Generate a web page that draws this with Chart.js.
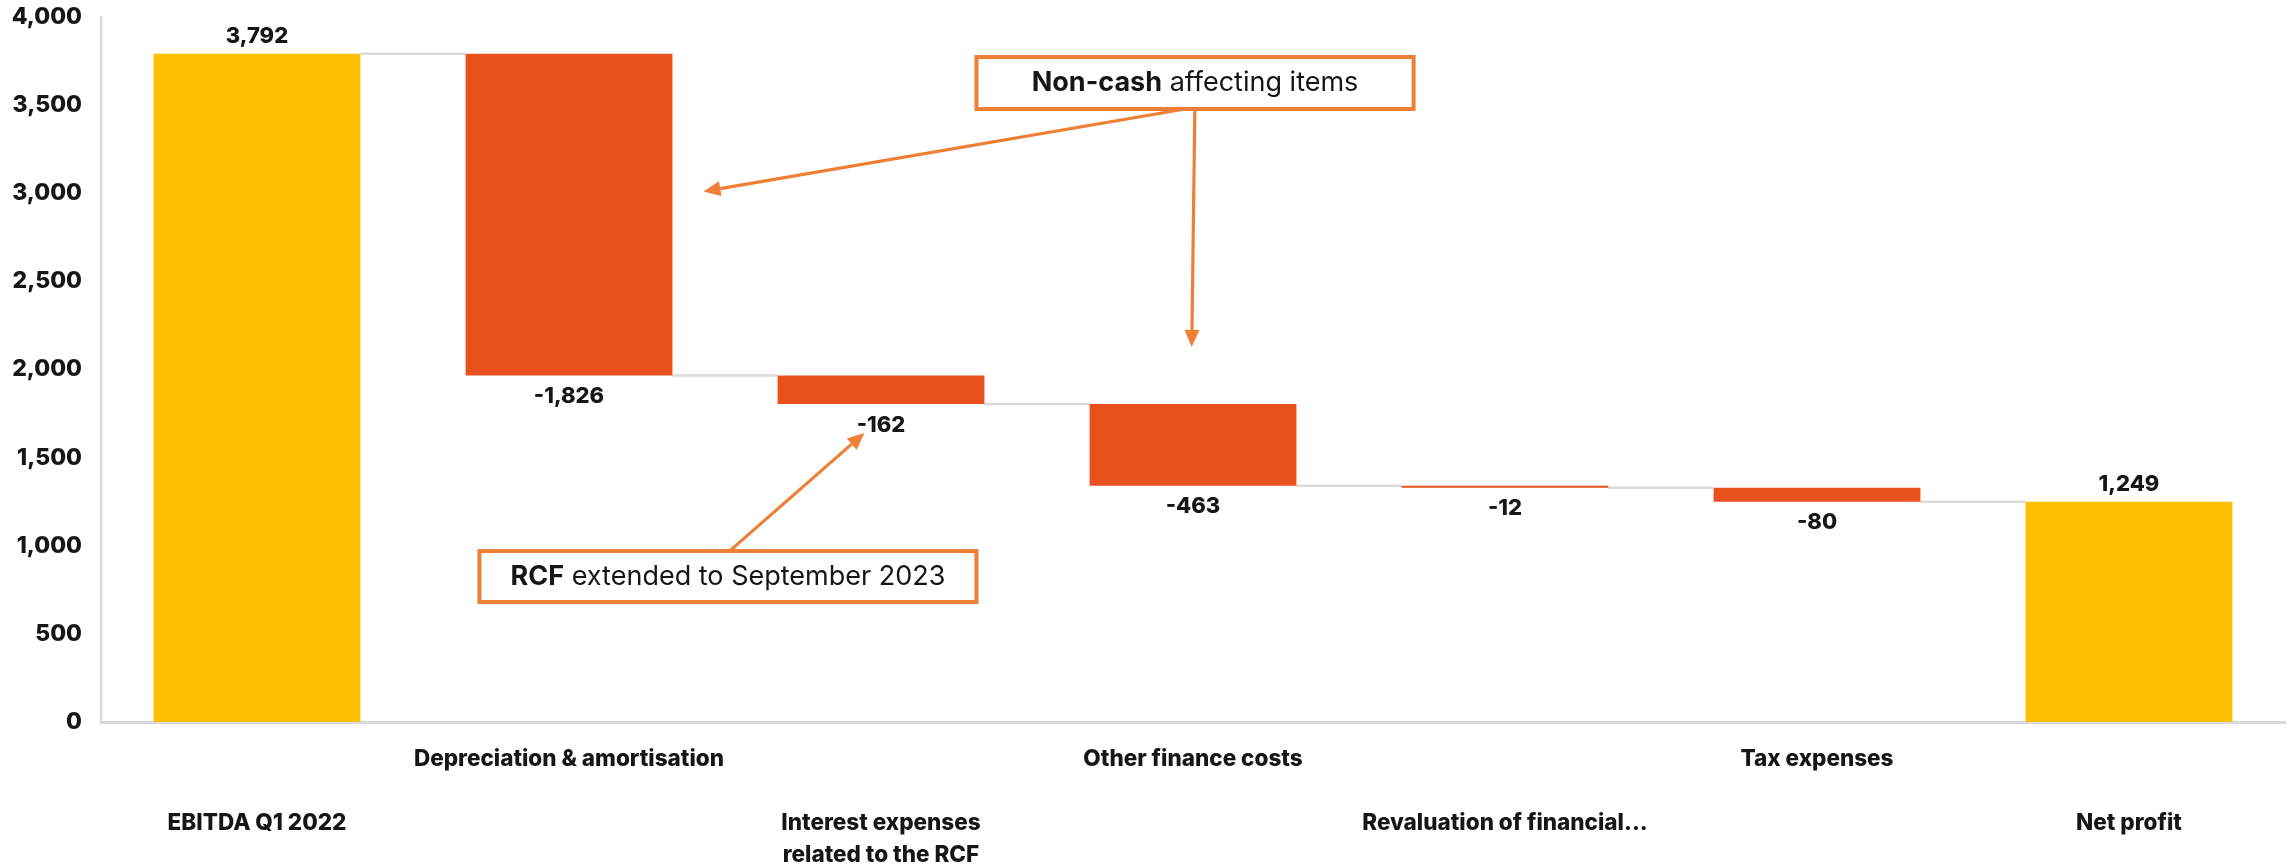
<!DOCTYPE html>
<html>
<head>
<meta charset="utf-8">
<script src="https://cdn.jsdelivr.net/npm/chart.js@4/dist/chart.umd.min.js"></script>
<style>
  html, body { margin: 0; padding: 0; background: #ffffff; }
  #wrap { width: 2292px; height: 866px; position: relative; }
  canvas { display: block; }
</style>
</head>
<body>
<div id="wrap"><canvas id="chart" width="2292" height="866"></canvas></div>
<script>
// Waterfall: from EBITDA to net profit
const categories = [
  ['EBITDA Q1 2022'],
  ['Depreciation & amortisation'],
  ['Interest expenses', 'related to the RCF'],
  ['Other finance costs'],
  ['Revaluation of financial...'],
  ['Tax expenses'],
  ['Net profit']
];
const changes = [3792, -1826, -162, -463, -12, -80, 1249];
const isTotal = [true, false, false, false, false, false, true];
const yTickValues = [0, 500, 1000, 1500, 2000, 2500, 3000, 3500, 4000];

const TOTAL_COLOR = '#FFC000';
const DELTA_COLOR = '#E8511C';
const NOTE_COLOR = '#EE7F35';
const CONNECTOR_COLOR = '#dadada';
const TEXT_COLOR = '#161616';
const FONT = 'Inter, "Noto Sans", sans-serif';

// floating ranges built from the running total
const ranges = [];
let running = 0;
changes.forEach((v, i) => {
  if (isTotal[i]) { ranges.push([0, v]); running = v; }
  else { ranges.push([running + v, running]); running += v; }
});
const runningLevels = [];
running = 0;
changes.forEach((v, i) => { running = isTotal[i] ? v : running + v; runningLevels.push(running); });

// staggered category labels: every other label sits two lines lower
const tickLabels = categories.map((lines, i) => (i % 2 === 0 ? ['', ''].concat(lines) : lines.slice()));

// callout boxes with arrows, placed in axis units (category index, value)
const callouts = [
  {
    bold: 'Non-cash', rest: ' affecting items',
    box: { x0: 2.306, y0: 3773, x1: 3.707, y1: 3478 },
    arrows: [
      { from: [2.975, 3478], to: [1.431, 3010] },
      { from: [3.006, 3478], to: [2.996, 2128] }
    ]
  },
  {
    bold: 'RCF', rest: ' extended to September 2023',
    box: { x0: 0.713, y0: 970, x1: 2.306, y1: 681 },
    arrows: [
      { from: [1.518, 975], to: [1.947, 1640] }
    ]
  }
];

function fmt(v) { return v.toLocaleString('en-US'); }

function drawArrow(ctx, x0, y0, x1, y1, width) {
  const ang = Math.atan2(y1 - y0, x1 - x0);
  const headLen = 17, headHalf = 7.5;
  const bx = x1 - Math.cos(ang) * headLen, by = y1 - Math.sin(ang) * headLen;
  ctx.strokeStyle = NOTE_COLOR;
  ctx.lineWidth = width;
  ctx.beginPath();
  ctx.moveTo(x0, y0);
  ctx.lineTo(bx, by);
  ctx.stroke();
  ctx.fillStyle = NOTE_COLOR;
  ctx.beginPath();
  ctx.moveTo(x1, y1);
  ctx.lineTo(bx + Math.sin(ang) * headHalf, by - Math.cos(ang) * headHalf);
  ctx.lineTo(bx - Math.sin(ang) * headHalf, by + Math.cos(ang) * headHalf);
  ctx.closePath();
  ctx.fill();
}

const waterfallExtras = {
  id: 'waterfallExtras',
  beforeDatasetsDraw(chart) {
    const ctx = chart.ctx, meta = chart.getDatasetMeta(0), ys = chart.scales.y;
    ctx.save();
    ctx.strokeStyle = CONNECTOR_COLOR;
    ctx.lineWidth = 2.5;
    for (let i = 0; i < meta.data.length - 1; i++) {
      const a = meta.data[i], b = meta.data[i + 1];
      const yy = ys.getPixelForValue(runningLevels[i]);
      ctx.beginPath();
      ctx.moveTo(a.x + a.width / 2, yy);
      ctx.lineTo(b.x - b.width / 2, yy);
      ctx.stroke();
    }
    ctx.restore();
  },
  afterDatasetsDraw(chart) {
    const ctx = chart.ctx, meta = chart.getDatasetMeta(0);
    const xs = chart.scales.x, ys = chart.scales.y;
    ctx.save();
    // value labels
    ctx.font = '800 22px ' + FONT;
    ctx.fillStyle = TEXT_COLOR;
    ctx.textAlign = 'center';
    ctx.textBaseline = 'middle';
    meta.data.forEach((bar, i) => {
      const top = Math.min(bar.y, bar.base), bottom = Math.max(bar.y, bar.base);
      const yy = isTotal[i] ? top - 17 : bottom + 21;
      ctx.fillText(fmt(changes[i]), bar.x, yy);
    });
    // callouts
    ctx.lineCap = 'butt';
    callouts.forEach(c => {
      c.arrows.forEach(a => {
        drawArrow(ctx,
          xs.getPixelForValue(a.from[0]), ys.getPixelForValue(a.from[1]),
          xs.getPixelForValue(a.to[0]), ys.getPixelForValue(a.to[1]), 3.2);
      });
      const bx0 = xs.getPixelForValue(c.box.x0), bx1 = xs.getPixelForValue(c.box.x1);
      const by0 = ys.getPixelForValue(c.box.y0), by1 = ys.getPixelForValue(c.box.y1);
      ctx.fillStyle = '#ffffff';
      ctx.fillRect(bx0, by0, bx1 - bx0, by1 - by0);
      ctx.strokeStyle = NOTE_COLOR;
      ctx.lineWidth = 4;
      ctx.strokeRect(bx0, by0, bx1 - bx0, by1 - by0);
      const boldFont = '700 27px ' + FONT, restFont = '400 27px ' + FONT;
      ctx.font = boldFont; const wb = ctx.measureText(c.bold).width;
      ctx.font = restFont; const wr = ctx.measureText(c.rest).width;
      const cx = (bx0 + bx1) / 2, cy = (by0 + by1) / 2;
      let tx = cx - (wb + wr) / 2;
      ctx.textAlign = 'left';
      ctx.textBaseline = 'middle';
      ctx.fillStyle = TEXT_COLOR;
      ctx.font = boldFont; ctx.fillText(c.bold, tx, cy);
      ctx.font = restFont; ctx.fillText(c.rest, tx + wb, cy);
    });
    ctx.restore();
  }
};

new Chart(document.getElementById('chart'), {
  type: 'bar',
  data: {
    labels: tickLabels,
    datasets: [{
      data: ranges,
      backgroundColor: isTotal.map(t => (t ? TOTAL_COLOR : DELTA_COLOR)),
      borderWidth: 0,
      borderSkipped: false,
      barPercentage: 0.663,
      categoryPercentage: 1
    }]
  },
  options: {
    responsive: false,
    animation: false,
    devicePixelRatio: 1,
    layout: { padding: { top: 17, right: 7, left: 0, bottom: 0 } },
    plugins: { legend: { display: false }, tooltip: { enabled: false } },
    scales: {
      x: {
        offset: true,
        grid: { display: false, drawTicks: false },
        border: { display: true, color: '#d9d9d9', width: 3 },
        ticks: {
          autoSkip: false, maxRotation: 0, minRotation: 0,
          color: TEXT_COLOR, padding: 21,
          font: { family: FONT, weight: '800', size: 22.5, lineHeight: '32px' }
        },
        afterFit(scale) { scale.height = 144; scale.paddingTop = 0; scale.paddingBottom = 0; }
      },
      y: {
        min: 0, max: 4000,
        grid: { display: false, drawTicks: false },
        border: { display: true, color: '#d9d9d9', width: 2.5 },
        afterBuildTicks(scale) { scale.ticks = yTickValues.map(v => ({ value: v })); },
        ticks: {
          color: TEXT_COLOR, padding: 19,
          font: { family: FONT, weight: '800', size: 23 },
          callback: v => fmt(v)
        },
        afterFit(scale) { scale.width = 101; scale.paddingTop = 0; scale.paddingBottom = 0; }
      }
    }
  },
  plugins: [waterfallExtras]
});
</script>
</body>
</html>
